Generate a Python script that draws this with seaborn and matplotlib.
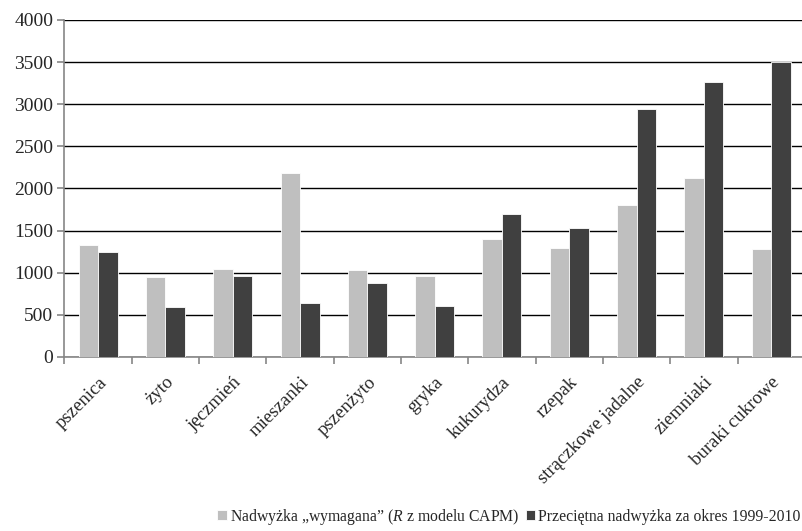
import pandas as pd
import matplotlib
matplotlib.use("Agg")
import matplotlib.pyplot as plt
import seaborn as sns

# data
crops = ["pszenica", "żyto", "jęczmień", "mieszanki", "pszenżyto", "gryka",
         "kukurydza", "rzepak", "strączkowe jadalne", "ziemniaki", "buraki cukrowe"]
required = [1326, 946, 1045, 2184, 1033, 961, 1401, 1290, 1808, 2125, 1282]
average = [1250, 590, 961, 641, 878, 605, 1697, 1527, 2947, 3260, 3498]

lab_req = "Nadwyżka „wymagana” ($\\mathit{R}$ z modelu CAPM)"
lab_avg = "Przeciętna nadwyżka za okres 1999-2010"

df = pd.DataFrame({
    "crop": crops * 2,
    "value": required + average,
    "series": [lab_req] * len(crops) + [lab_avg] * len(crops),
})

sns.set_theme(style="white")
plt.rcParams["font.family"] = ["Liberation Serif", "DejaVu Serif"]
plt.rcParams["mathtext.fontset"] = "custom"
plt.rcParams["mathtext.it"] = "Liberation Serif:italic"
plt.rcParams["mathtext.rm"] = "Liberation Serif"

fig = plt.figure(figsize=(8.03, 5.31), dpi=100)
ax = fig.add_axes([0.0803, 0.3277, 0.922, 0.6347])

sns.barplot(data=df, x="crop", y="value", hue="series",
            palette=["#bfbfbf", "#404040"], width=0.58,
            edgecolor="white", linewidth=0.6, ax=ax, zorder=3)

ax.set_ylim(0, 4000)
ax.set_xlim(-0.5, len(crops) - 0.5)
ax.set_yticks(range(0, 4001, 500))
ax.yaxis.grid(True, color="#000000", linewidth=1.0, zorder=0)
ax.set_axisbelow(True)
ax.set_xlabel("")
ax.set_ylabel("")

for s in ["top", "right"]:
    ax.spines[s].set_visible(False)
for s in ["left", "bottom"]:
    ax.spines[s].set_color("#868686")
    ax.spines[s].set_linewidth(1.2)

# category separators as minor ticks on x
ax.set_xticks([i - 0.5 for i in range(len(crops) + 1)], minor=True)
ax.tick_params(axis="x", which="minor", bottom=True, length=5, color="#868686", width=1.2)
ax.tick_params(axis="x", which="major", bottom=False, labelsize=13.5, pad=6)
ax.tick_params(axis="y", left=True, length=5, color="#868686", width=1.2, labelsize=14, pad=3)
ax.set_xticks(range(len(crops)))
ax.set_xticklabels(crops, rotation=45, ha="right", rotation_mode="anchor")

handles, labels = ax.get_legend_handles_labels()
ax.legend_.remove()
fig.legend(handles, labels, loc="center right", bbox_to_anchor=(0.999, 0.027), ncol=2,
           frameon=False, fontsize=11.3, handlelength=0.6, handleheight=0.6,
           handletextpad=0.2, columnspacing=0.4, borderaxespad=0, borderpad=0.1)

fig.savefig("out.png", dpi=100, facecolor="white")
